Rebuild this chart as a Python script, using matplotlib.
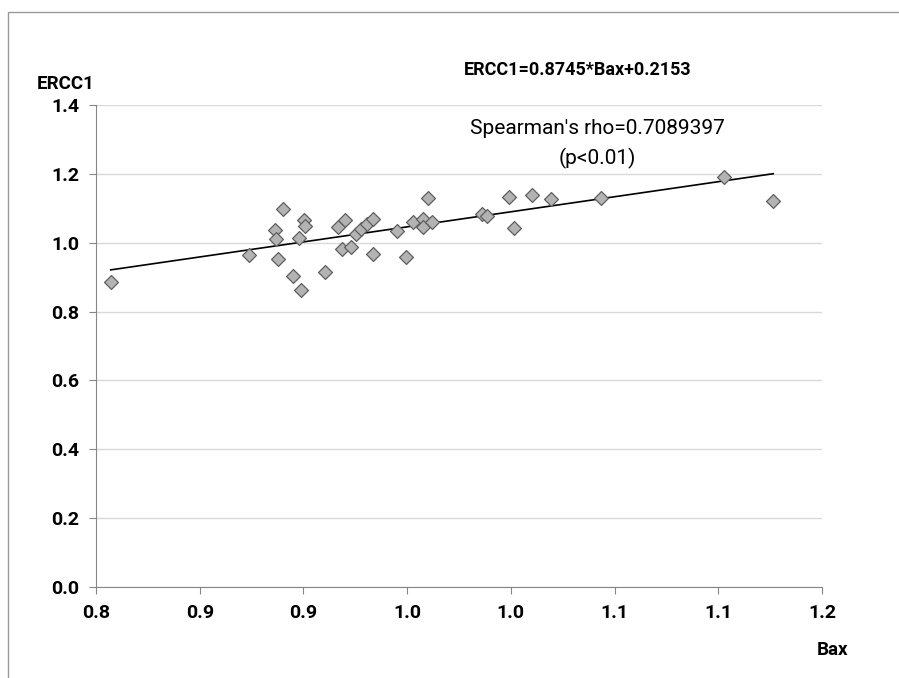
import matplotlib
matplotlib.use('Agg')
from matplotlib import pyplot as plt
from matplotlib.patches import Rectangle
import numpy as np

plt.rcParams['font.family'] = ['Roboto', 'DejaVu Sans']

# values
bax = [0.8071, 0.8739, 0.8864, 0.8868, 0.8903, 0.8879, 0.8951, 0.8987, 0.8980,
       0.9001, 0.9009, 0.9105, 0.9167, 0.9200, 0.9187, 0.9231, 0.9252, 0.9276,
       0.9305, 0.9334, 0.9337, 0.9453, 0.9494, 0.9527, 0.9578, 0.9575, 0.9618,
       0.9599, 0.9859, 0.9883, 0.9991, 1.0017, 1.0104, 1.0192, 1.0435, 1.1028,
       1.1265]
ercc1 = [0.887, 0.964, 1.037, 1.011, 1.097, 0.952, 0.903, 0.863, 1.013,
         1.066, 1.049, 0.916, 1.046, 1.066, 0.983, 0.988, 1.025, 1.039,
         1.053, 1.068, 0.968, 1.034, 0.959, 1.059, 1.069, 1.046, 1.059,
         1.129, 1.082, 1.078, 1.132, 1.044, 1.138, 1.127, 1.131, 1.192,
         1.121]
slope, intercept = 0.8745, 0.2153
x_ticks = [0.80, 0.85, 0.90, 0.95, 1.00, 1.05, 1.10, 1.15]
y_ticks = [0.0, 0.2, 0.4, 0.6, 0.8, 1.0, 1.2, 1.4]

W, H = 899, 678
fig = plt.figure(figsize=(W/100, H/100), dpi=100)
fig.patches.append(Rectangle((8/W, -0.1), 1.2, (H-12)/H + 0.1, transform=fig.transFigure,
                             fill=False, edgecolor='#9a9a9a', lw=1.0))
ax = fig.add_axes([96/W, 1-587/H, (822-96)/W, (587-105)/H])

ax.set_xlim(x_ticks[0], x_ticks[-1])
ax.set_ylim(y_ticks[0], y_ticks[-1])
ax.set_xticks(x_ticks)
ax.set_xticklabels(['{:.1f}'.format(v + 1e-9) for v in x_ticks])
ax.set_yticks(y_ticks)
ax.set_yticklabels(['{:.1f}'.format(v) for v in y_ticks])
for lab in ax.get_xticklabels() + ax.get_yticklabels():
    lab.set_fontweight('bold')
ax.tick_params(labelsize=14, length=5, color='#868686', pad=7)
ax.grid(axis='y', color='#d9d9d9', lw=1)
ax.set_axisbelow(True)
for s in ['top', 'right']:
    ax.spines[s].set_visible(False)
for s in ['left', 'bottom']:
    ax.spines[s].set_color('#868686')

xl = np.array([min(bax), max(bax)])
ax.plot(xl, slope*xl + intercept, c='black', lw=1.2, zorder=2)
ax.scatter(bax, ercc1, marker='D', s=50, c='#b3b3b3', edgecolors='#5f5f5f',
           linewidths=0.9, zorder=3)

fig.text(66/W, 1-84/H, 'ERCC1', fontsize=13.5, fontweight='bold', ha='center', va='center')
fig.text(578/W, 1-70/H, 'ERCC1={}*Bax+{}'.format(slope, intercept), fontsize=13,
         fontweight='bold', ha='center', va='center')
fig.text(597/W, 1-128/H, "Spearman's rho=0.7089397", fontsize=15, ha='center', va='center')
fig.text(597/W, 1-158/H, '(p<0.01)', fontsize=15, ha='center', va='center')
fig.text(848/W, 1-650/H, 'Bax', fontsize=13.5, fontweight='bold', ha='right', va='center')

plt.savefig('out.png', dpi=100)
